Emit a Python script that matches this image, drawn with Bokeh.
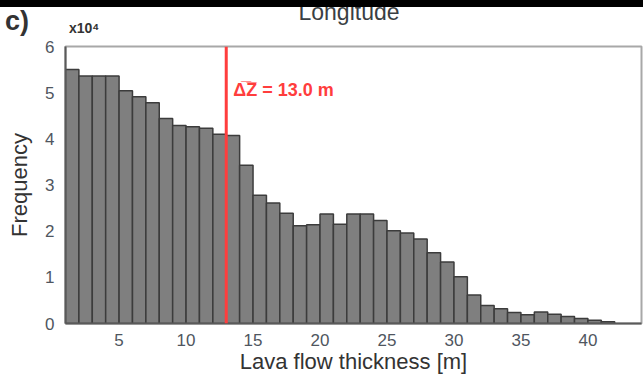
from bokeh.plotting import figure
from bokeh.models import Label, Span, FixedTicker, Div
from bokeh.layouts import column
from bokeh.embed import file_html
from bokeh.resources import INLINE

# ---- data (frequency in units of 10^4, bins of 1 m) ----
bin_left = list(range(1, 42))
freq = [5.50, 5.36, 5.36, 5.36, 5.04, 4.91, 4.78, 4.44, 4.29, 4.26,
        4.23, 4.10, 4.07, 3.43, 2.78, 2.61, 2.39, 2.12, 2.14, 2.37,
        2.15, 2.37, 2.37, 2.23, 2.01, 1.96, 1.83, 1.53, 1.33, 1.01,
        0.62, 0.39, 0.32, 0.24, 0.19, 0.25, 0.20, 0.15, 0.11, 0.07, 0.04]
mean_dz = 13.0
x_ticks = [5, 10, 15, 20, 25, 30, 35, 40]
y_ticks = [0, 1, 2, 3, 4, 5, 6]
panel_letter = "c)"
title_text = "Longitude"
exponent_text = "x10⁴"

FONT = "Liberation Sans"
W = 643
HEAD_H = 37
TOP_GAP = 9

# ---- header strip (black band, panel letter, title, exponent) ----
head_html = f"""
<div style="position:relative;width:{W}px;height:{HEAD_H}px;overflow:hidden;
            background:white;font-family:'{FONT}';">
  <span style="position:absolute;left:349px;top:1px;transform:translateX(-50%);
               font-size:23px;line-height:1;color:#3a3f44;white-space:nowrap;">{title_text}</span>
  <span style="position:absolute;left:5px;top:8px;font-size:27px;font-weight:bold;
               line-height:1;color:#333333;white-space:nowrap;">{panel_letter}</span>
  <span style="position:absolute;left:69px;top:21px;font-size:14px;font-weight:bold;
               line-height:1;color:#333333;white-space:nowrap;">{exponent_text}</span>
  <div style="position:absolute;left:0;top:0;width:{W}px;height:7px;background:black;"></div>
</div>
"""
h = Div(text=head_html, width=W, height=HEAD_H, margin=0)

# ---- main histogram ----
p = figure(width=W, height=376 - HEAD_H, x_range=(1, 44), y_range=(0, 6),
           output_backend="svg", toolbar_location=None,
           min_border_left=65, min_border_right=2,
           min_border_top=TOP_GAP, min_border_bottom=52)
p.background_fill_color = "white"
p.border_fill_color = "white"
p.outline_line_color = "#a8a8a8"
p.outline_line_width = 2
p.grid.visible = False

p.quad(left=bin_left, right=[b + 1 for b in bin_left], bottom=0, top=freq,
       fill_color="#7f7f7f", line_color="#3c3c3c", line_width=1.5)

p.add_layout(Span(location=mean_dz, dimension="height",
                  line_color="#ff3d3d", line_width=3))

p.xaxis.ticker = FixedTicker(ticks=x_ticks)
p.yaxis.ticker = FixedTicker(ticks=y_ticks)
for ax in (p.xaxis, p.yaxis):
    ax.major_label_text_font = FONT
    ax.major_label_text_font_size = "17px"
    ax.major_label_text_color = "#4f5660"
    ax.major_tick_line_color = None
    ax.minor_tick_line_color = None
    ax.axis_line_color = "#5a5a5a"
    ax.axis_line_width = 2
    ax.axis_label_text_font = FONT
    ax.axis_label_text_font_style = "normal"
    ax.axis_label_text_font_size = "22px"
    ax.axis_label_text_color = "#333333"
p.xaxis.major_label_standoff = 4
p.yaxis.major_label_standoff = 5
p.xaxis.axis_label = "Lava flow thickness [m]"
p.yaxis.axis_label = "Frequency"
p.xaxis.axis_label_standoff = 0
p.yaxis.axis_label_standoff = 10

p.add_layout(Label(x=mean_dz, y=5.05, x_offset=7, text="Δ\u0305Z\u0305 = 13.0 m",
                   text_font=FONT, text_font_style="bold", text_font_size="18px",
                   text_color="#ff3d3d", text_baseline="alphabetic"))

layout = column(h, p, spacing=0)

open("out.html", "w").write(file_html(layout, INLINE))
